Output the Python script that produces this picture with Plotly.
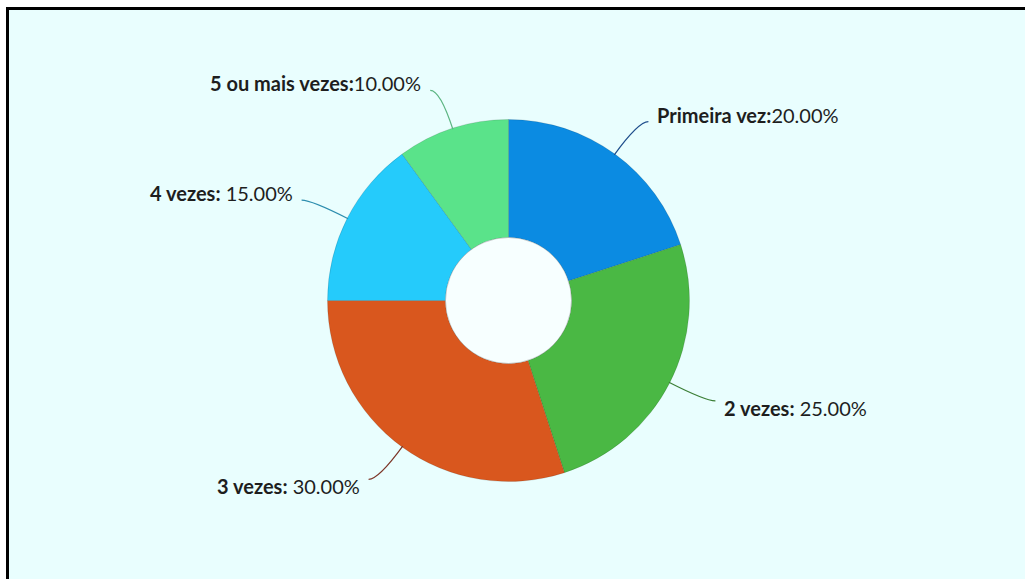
import math
import plotly.graph_objects as go

# Survey answers and their shares (percent)
categories = ["Primeira vez", "2 vezes", "3 vezes", "4 vezes", "5 ou mais vezes"]
shares = [20, 25, 30, 15, 10]
slice_colors = ["#0B8BE2", "#4AB844", "#D9571E", "#25CBFB", "#5AE38A"]
leader_colors = ["#1F4E8C", "#3C7F37", "#7C3527", "#2C8DAE", "#5CB582"]
label_gaps = ["", " ", " ", " ", ""]

# Canvas geometry (pixels)
W, H = 1025, 579
CX, CY = 508.5, 300.5
R = 181
HOLE_R = 63
BG = "#E9FEFE"
FRAME_X, FRAME_Y = 7.5, 8.5


def px(x, y):
    return x / W, 1 - y / H


fig = go.Figure(
    go.Pie(
        labels=categories,
        values=shares,
        sort=False,
        direction="clockwise",
        rotation=0,
        hole=HOLE_R / R,
        textinfo="none",
        hoverinfo="skip",
        showlegend=False,
        marker=dict(colors=slice_colors, line=dict(color="rgba(0,0,0,0.12)", width=1)),
        domain=dict(
            x=[(CX - R) / W, (CX + R) / W],
            y=[1 - (CY + R) / H, 1 - (CY - R) / H],
        ),
    )
)

fx, fy = px(FRAME_X, FRAME_Y)
shapes = [
    # panel background
    dict(type="rect", xref="paper", yref="paper",
         x0=fx, x1=1, y0=0, y1=fy,
         line=dict(width=0), fillcolor=BG, layer="below"),
    # frame edges (left and top), one open path
    dict(type="path", xref="paper", yref="paper",
         path=f"M {fx},0 L {fx},{fy} L 1.5,{fy}",
         line=dict(color="black", width=3), layer="below"),
    # centre disc
    dict(type="circle", xref="paper", yref="paper",
         x0=(CX - HOLE_R) / W, x1=(CX + HOLE_R) / W,
         y0=1 - (CY + HOLE_R) / H, y1=1 - (CY - HOLE_R) / H,
         line=dict(color="rgba(120,120,120,0.35)", width=1), fillcolor="#F7FFFF",
         layer="above"),
]
annotations = []

total = sum(shares)
start = 0.0
for name, val, lc, gap in zip(categories, shares, leader_colors, label_gaps):
    sweep = val / total * 2 * math.pi
    mid = start + sweep / 2
    start += sweep
    s, c = math.sin(mid), math.cos(mid)
    side = 1 if s >= 0 else -1
    vside = 1 if c >= 0 else -1
    x0, y0 = CX + (R - 1) * s, CY - (R - 1) * c
    x1, y1 = CX + (R + 40) * s, CY - (R + 40) * c
    x2, y2 = x1 + side * 10, y1
    a0, b0 = px(x0, y0)
    a1, b1 = px(x1, y1)
    a2, b2 = px(x2, y2)
    shapes.append(dict(type="path", xref="paper", yref="paper",
                       path=f"M {a0},{b0} Q {a1},{b1} {a2},{b2}",
                       line=dict(color=lc, width=1.2), layer="above"))
    # label sits slightly away from the horizontal mid line
    tx, ty = px(x2 + side * 7, y2 - vside * 7)
    annotations.append(dict(
        xref="paper", yref="paper", x=tx, y=ty,
        xanchor="left" if side > 0 else "right", yanchor="middle",
        showarrow=False,
        text=f"<b>{name}:</b>{gap}{val:.2f}%",
        font=dict(family="Lato", size=20, color="#1E1E1E"),
    ))

fig.update_layout(
    width=W, height=H,
    margin=dict(l=0, r=0, t=0, b=0),
    paper_bgcolor="white",
    plot_bgcolor="white",
    shapes=shapes,
    annotations=annotations,
)

fig.write_html("out.html")
